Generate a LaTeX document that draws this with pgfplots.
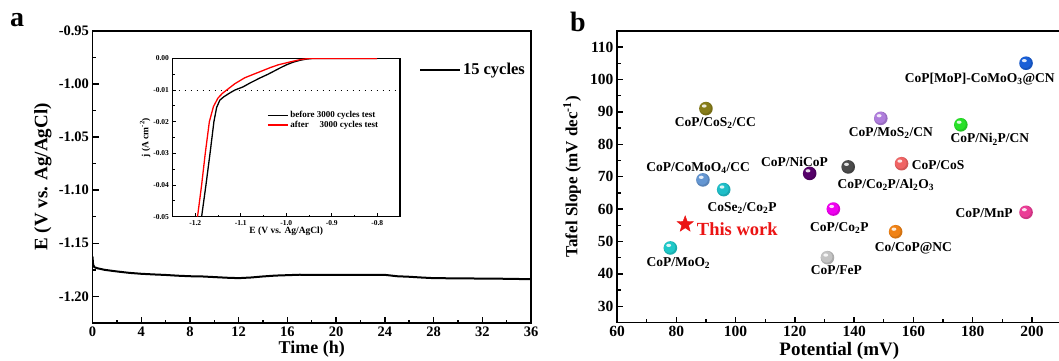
\documentclass[border=0pt]{standalone}
\usepackage{fontspec}
\setmainfont{Liberation Serif}
\usepackage{pgfplots}
\pgfplotsset{compat=1.18}
\definecolor{cBlue}{RGB}{25,95,215}
\definecolor{cOlive}{RGB}{135,125,25}
\definecolor{cLav}{RGB}{175,125,220}
\definecolor{cGreen}{RGB}{40,225,40}
\definecolor{cSalmon}{RGB}{240,100,100}
\definecolor{cDGray}{RGB}{75,75,75}
\definecolor{cDPurp}{RGB}{85,0,105}
\definecolor{cSteel}{RGB}{100,150,210}
\definecolor{cTeal}{RGB}{30,190,200}
\definecolor{cMag}{RGB}{240,0,240}
\definecolor{cPink}{RGB}{235,60,150}
\definecolor{cOrange}{RGB}{240,130,20}
\definecolor{cCyan}{RGB}{30,200,200}
\definecolor{cLGray}{RGB}{195,195,195}
\definecolor{cRed}{RGB}{235,20,20}
\pgfdeclareplotmark{fstar}{%
  \pgfpathmoveto{\pgfpointpolar{90}{\pgfplotmarksize}}%
  \pgfpathlineto{\pgfpointpolar{126}{0.42\pgfplotmarksize}}%
  \pgfpathlineto{\pgfpointpolar{162}{\pgfplotmarksize}}%
  \pgfpathlineto{\pgfpointpolar{198}{0.42\pgfplotmarksize}}%
  \pgfpathlineto{\pgfpointpolar{234}{\pgfplotmarksize}}%
  \pgfpathlineto{\pgfpointpolar{270}{0.42\pgfplotmarksize}}%
  \pgfpathlineto{\pgfpointpolar{306}{\pgfplotmarksize}}%
  \pgfpathlineto{\pgfpointpolar{342}{0.42\pgfplotmarksize}}%
  \pgfpathlineto{\pgfpointpolar{18}{\pgfplotmarksize}}%
  \pgfpathlineto{\pgfpointpolar{54}{0.42\pgfplotmarksize}}%
  \pgfpathclose
  \pgfusepathqfillstroke}
\pgfdeclareplotmark{glossy}{%
  \pgfpathcircle{\pgfpointorigin}{\pgfplotmarksize}%
  \pgfusepathqfill
  \begin{pgfscope}%
  \pgfsetfillcolor{black}%
  \pgfsetfillopacity{0.12}%
  \pgfpathcircle{\pgfpointorigin}{\pgfplotmarksize}%
  \pgfpathcircle{\pgfpoint{-0.12\pgfplotmarksize}{0.12\pgfplotmarksize}}{0.86\pgfplotmarksize}%
  \pgfseteorule
  \pgfusepathqfill
  \end{pgfscope}%
  \begin{pgfscope}%
  \pgfsetfillcolor{white}%
  \pgfsetfillopacity{0.85}%
  \pgfpathellipse{\pgfpoint{-0.25\pgfplotmarksize}{0.38\pgfplotmarksize}}{\pgfpoint{0.36\pgfplotmarksize}{0pt}}{\pgfpoint{0pt}{0.24\pgfplotmarksize}}%
  \pgfusepathqfill
  \end{pgfscope}}
\newcommand{\fs}[1]{\fontsize{#1}{#1}\selectfont\bfseries}
\pgfplotsset{
  myax/.style={
    scale only axis, anchor=south west,
    tick align=inside, xtick pos=bottom, ytick pos=left,
    axis line style={line width=1.8pt},
    major tick length=6pt, minor tick length=3.5pt,
    tick style={line width=1.4pt, black},
    /pgf/number format/assume math mode=true,
    ticklabel style={font=\fs{14.5}, text=black},
    scaled y ticks=false, scaled x ticks=false,
  },
  ball/.style={only marks, mark=glossy, mark size=6.8pt, color=#1},
}
\tikzset{lbl/.style={font=\fs{13.5}, text=black}}
\begin{document}
\begin{tikzpicture}
\path[use as bounding box] (0,0) rectangle (1059pt,361pt);
% ---------------- panel a ----------------
\begin{axis}[myax, at={(92.5pt,38pt)}, width=438.5pt, height=292.3pt,
  xmin=0, xmax=36, ymin=-1.225, ymax=-0.95,
  xtick={0,4,...,36}, minor x tick num=1,
  ytick={-1.2,-1.15,-1.1,-1.05,-1,-0.95}, minor y tick num=1,
  yticklabel style={/pgf/number format/fixed,/pgf/number format/fixed zerofill,/pgf/number format/precision=2},
  xlabel={Time (h)}, ylabel={E (V vs. Ag/AgCl)},
  xlabel style={at={(axis description cs:0.5,-0.089)}, anchor=center, font=\fs{18}},
  ylabel style={at={(axis description cs:-0.113,0.5)}, anchor=center, font=\fs{19}},
  legend style={draw=none, fill=none, at={(axis description cs:0.991,0.8656)}, anchor=east, font=\fs{16.5}, inner sep=0pt},
  legend cell align=left,
  legend image code/.code={\draw[#1] (0pt,0pt) -- (40pt,0pt);},
]
\addplot[black, line width=2pt] coordinates {
(0,-1.1625) (0.05,-1.1700) (0.15,-1.1725) (0.4,-1.1735) (1,-1.1750) (2,-1.1765)
(3,-1.1778) (4,-1.1787) (5,-1.1793) (6,-1.1798) (7,-1.1805) (8,-1.1810)
(9,-1.1812) (10,-1.1818) (11,-1.1824) (12,-1.1828) (13,-1.1822) (14,-1.1812)
(15,-1.1804) (16,-1.1800) (17,-1.1796) (18,-1.1797) (20,-1.1797) (22,-1.1797)
(24,-1.1797) (25,-1.1810) (26,-1.1815) (27,-1.1822) (28,-1.1828) (30,-1.1830)
(32,-1.1832) (34,-1.1834) (36,-1.1838)};
\addlegendentry{15 cycles}
\end{axis}
% ---------------- inset ----------------
\begin{axis}[scale only axis, anchor=south west, at={(172.5pt,144.3pt)}, width=227.5pt, height=158.3pt,
  axis background/.style={fill=white},
  tick align=inside, xtick pos=bottom, ytick pos=left,
  axis line style={line width=1.1pt},
  major tick length=3.5pt, minor tick length=2pt,
  tick style={line width=0.8pt, black},
  xmin=-1.25, xmax=-0.75, ymin=-0.05, ymax=0,
  xtick={-1.2,-1.1,-1,-0.9,-0.8}, minor x tick num=1,
  ytick={-0.05,-0.04,-0.03,-0.02,-0.01,0}, minor y tick num=1,
  scaled y ticks=false, scaled x ticks=false,
  /pgf/number format/assume math mode=true,
  ticklabel style={font=\fs{7.5}},
  xticklabel style={/pgf/number format/fixed,/pgf/number format/fixed zerofill,/pgf/number format/precision=1},
  yticklabel style={/pgf/number format/fixed,/pgf/number format/fixed zerofill,/pgf/number format/precision=2},
  xlabel={E (V vs. Ag/AgCl)}, ylabel={j (A cm\textsuperscript{-2})},
  xlabel style={at={(axis description cs:0.5,-0.095)}, anchor=center, font=\fs{9.5}},
  ylabel style={at={(axis description cs:-0.12,0.5)}, anchor=center, font=\fs{9.5}},
  legend style={draw=none, fill=none, font=\fs{9}, at={(axis description cs:0.415,0.68)}, anchor=north west, inner sep=0pt, row sep=-2pt},
  legend cell align=left,
  legend image code/.code={\draw[#1] (0pt,0pt) -- (20pt,0pt);},
]
\addplot[forget plot, black, line width=0.9pt, dash pattern=on 1.5pt off 4.5pt] coordinates {(-1.25,-0.01) (-0.75,-0.01)};
\addplot[black, line width=1.3pt] coordinates {
(-1.186,-0.05) (-1.1765,-0.04) (-1.1675,-0.03) (-1.159,-0.02) (-1.153,-0.0155)
(-1.146,-0.0132) (-1.138,-0.0122) (-1.125,-0.0110) (-1.113,-0.0100) (-1.095,-0.0090)
(-1.080,-0.0078) (-1.058,-0.0062) (-1.040,-0.0050) (-1.028,-0.0041) (-1.012,-0.0029)
(-0.999,-0.0020) (-0.985,-0.0012) (-0.970,-0.0006) (-0.955,-0.0002) (-0.94,0) (-0.80,0)};
\addlegendentry{before 3000 cycles test}
\addplot[red, line width=1.3pt] coordinates {
(-1.195,-0.05) (-1.186,-0.04) (-1.178,-0.03) (-1.169,-0.02) (-1.160,-0.0152)
(-1.150,-0.0125) (-1.140,-0.0110) (-1.131,-0.0100) (-1.113,-0.0080) (-1.091,-0.0061)
(-1.070,-0.0049) (-1.054,-0.0040) (-1.035,-0.0029) (-1.017,-0.0020) (-0.988,-0.0010)
(-0.970,-0.0004) (-0.955,-0.0001) (-0.94,0) (-0.80,0)};
\addlegendentry{after\hspace{1.2em}3000 cycles test}
\end{axis}
% ---------------- panel b ----------------
\begin{axis}[myax, at={(617pt,38.5pt)}, width=444.6pt, height=291.7pt,
  xmin=60, xmax=210, ymin=25, ymax=115,
  xtick={60,80,...,200}, minor x tick num=1,
  ytick={30,40,...,110}, minor y tick num=1,
  ticklabel style={font=\fs{15.5}},
  xlabel={Potential (mV)}, ylabel={Tafel Slope (mV dec\textsuperscript{-1})},
  xlabel style={at={(axis description cs:0.5,-0.096)}, anchor=center, font=\fs{19}},
  ylabel style={at={(axis description cs:-0.101,0.5)}, anchor=center, font=\fs{17}},
]
\addplot[ball=cBlue] coordinates {(198,105)};
\addplot[ball=cOlive] coordinates {(90,91)};
\addplot[ball=cLav] coordinates {(149,88)};
\addplot[ball=cGreen] coordinates {(176,86)};
\addplot[ball=cSalmon] coordinates {(156,74)};
\addplot[ball=cDGray] coordinates {(138,73)};
\addplot[ball=cDPurp] coordinates {(125,71)};
\addplot[ball=cSteel] coordinates {(89,69)};
\addplot[ball=cTeal] coordinates {(96,66)};
\addplot[ball=cMag] coordinates {(133,60)};
\addplot[ball=cPink] coordinates {(198,59)};
\addplot[ball=cOrange] coordinates {(154,53)};
\addplot[ball=cCyan] coordinates {(78,48)};
\addplot[ball=cLGray] coordinates {(131,45)};
\addplot[only marks, mark=fstar, mark size=8.5pt, color=cRed] coordinates {(83,55.3)};
\node[lbl, anchor=mid] at (axis cs:182.4,99.9) {CoP[MoP]-CoMoO\textsubscript{3}@CN};
\node[lbl, anchor=mid] at (axis cs:93.2,86.1) {CoP/CoS\textsubscript{2}/CC};
\node[lbl, anchor=mid] at (axis cs:152.4,83.0) {CoP/MoS\textsubscript{2}/CN};
\node[lbl, anchor=mid] at (axis cs:185.8,81.1) {CoP/Ni\textsubscript{2}P/CN};
\node[lbl, anchor=mid west, inner sep=0pt] at (axis cs:159.4,72.8) {CoP/CoS};
\node[lbl, anchor=mid] at (axis cs:150.7,67.2) {CoP/Co\textsubscript{2}P/Al\textsubscript{2}O\textsubscript{3}};
\node[lbl, anchor=mid] at (axis cs:119.9,73.7) {CoP/NiCoP};
\node[lbl, anchor=mid] at (axis cs:87.4,72.2) {CoP/CoMoO\textsubscript{4}/CC};
\node[lbl, anchor=mid] at (axis cs:102.2,60.0) {CoSe\textsubscript{2}/Co\textsubscript{2}P};
\node[lbl, anchor=mid] at (axis cs:135.0,53.7) {CoP/Co\textsubscript{2}P};
\node[lbl, anchor=mid east, inner sep=0pt] at (axis cs:193.5,58.0) {CoP/MnP};
\node[lbl, anchor=mid west, inner sep=0pt, text=cRed, font=\fs{18.5}] at (axis cs:86.9,52.4) {This work};
\node[lbl, anchor=mid] at (axis cs:160.0,47.5) {Co/CoP@NC};
\node[lbl, anchor=mid] at (axis cs:80.7,42.9) {CoP/MoO\textsubscript{2}};
\node[lbl, anchor=mid] at (axis cs:134.0,40.5) {CoP/FeP};
\end{axis}
\node[anchor=base, font=\fs{28}] at (17pt,334pt) {a};
\node[anchor=base, font=\fs{28}] at (578pt,329pt) {b};
\end{tikzpicture}
\end{document}
